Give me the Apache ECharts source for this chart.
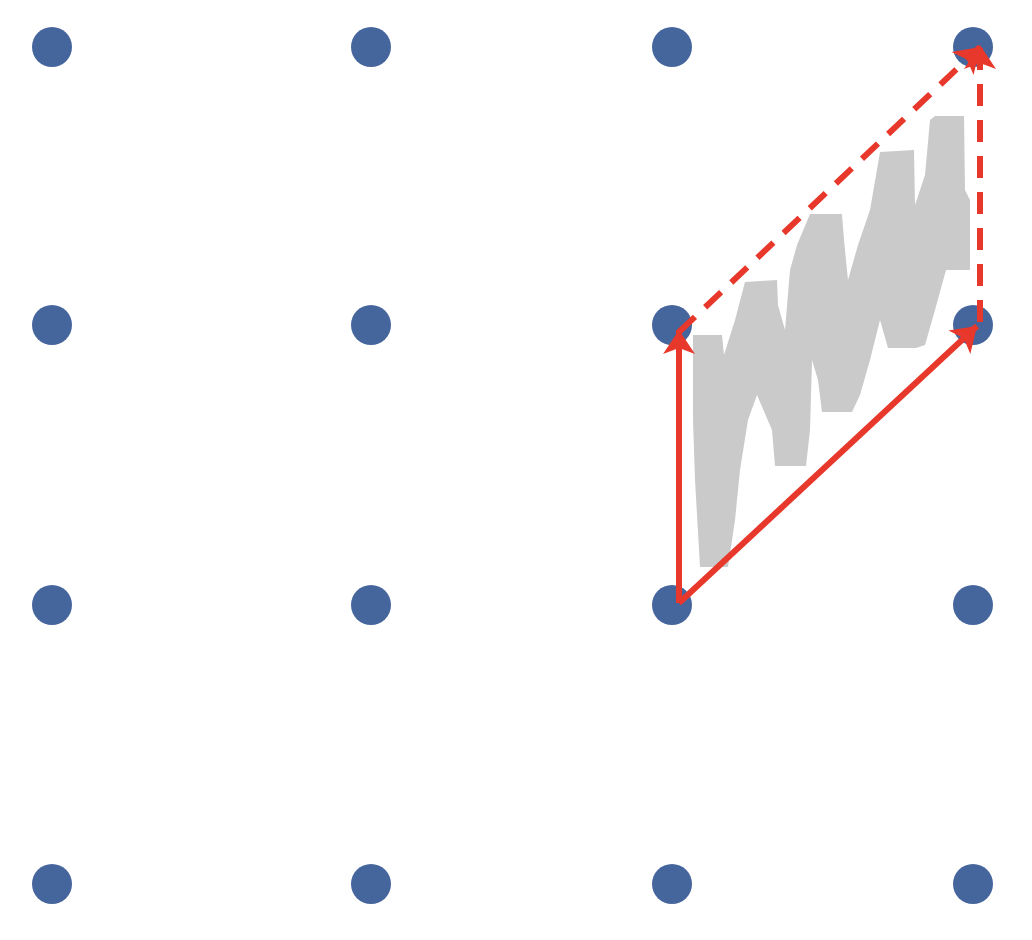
<!DOCTYPE html>
<html>
<head>
<meta charset="utf-8">
<style>html,body{margin:0;padding:0;background:#fff}#main{width:1032px;height:940px}</style>
<script src="https://cdn.jsdelivr.net/npm/echarts@6/dist/echarts.min.js"></script>
</head>
<body>
<div id="main"></div>
<script>
// lattice columns / rows (in picture units)
var colX = [52, 371, 672, 973];
var rowY = [47, 325, 605, 884];

// arrows: [from, to, dashed]
var solidArrows = [
    [[679, 603], [679, 330]],
    [[679, 603], [977, 326]]
];
var dashedArrows = [
    [[679, 332], [980, 47]],
    [[980, 322], [980, 45]]
];

// grey wavy band outline
var bandOutline = [
    [693,335],[722,335],[724,355],[735,320],[745,282],[777,280],[778,305],[785,330],
    [790,270],[797,245],[810,214],[842,214],[844,240],[848,280],[858,245],[870,210],
    [880,152],[914,150],[915,205],[925,175],[930,120],[935,116],[964,116],[965,190],
    [970,200],[970,270],[946,270],[935,310],[925,345],[916,348],[888,348],[880,320],
    [870,360],[860,395],[852,412],[822,412],[818,380],[812,360],[810,430],[806,466],
    [775,466],[772,430],[757,395],[748,420],[740,470],[735,520],[728,567],[700,567],
    [695,480],[693,420]
];

var dots = [];
rowY.forEach(function (y) { colX.forEach(function (x) { dots.push([x, y]); }); });

var chart = echarts.init(document.getElementById('main'));
chart.setOption({
    animation: false,
    grid: {left: 0, right: 0, top: 0, bottom: 0},
    xAxis: {type: 'value', min: 0, max: 1032, show: false},
    yAxis: {type: 'value', min: 0, max: 940, inverse: true, show: false},
    series: [
        {
            type: 'scatter', data: dots, symbolSize: 40,
            itemStyle: {color: '#173f84'}, z: 1
        },
        {
            type: 'custom', z: 2,
            renderItem: function (params, api) {
                return {
                    type: 'polygon',
                    shape: {points: bandOutline.map(function (p) { return api.coord(p); })},
                    style: {fill: '#cacaca'}
                };
            },
            data: [0]
        },
        {
            type: 'lines', coordinateSystem: 'cartesian2d', z: 3,
            symbol: ['none', 'arrow'], symbolSize: 24,
            lineStyle: {color: '#e8382b', width: 6, opacity: 1},
            data: solidArrows.map(function (a) { return {coords: a}; })
        },
        {
            type: 'lines', coordinateSystem: 'cartesian2d', z: 3,
            symbol: ['none', 'arrow'], symbolSize: 24,
            lineStyle: {color: '#e8382b', width: 6, type: [22, 14], opacity: 1},
            data: dashedArrows.map(function (a) { return {coords: a}; })
        }
    ]
});
</script>
</body>
</html>
